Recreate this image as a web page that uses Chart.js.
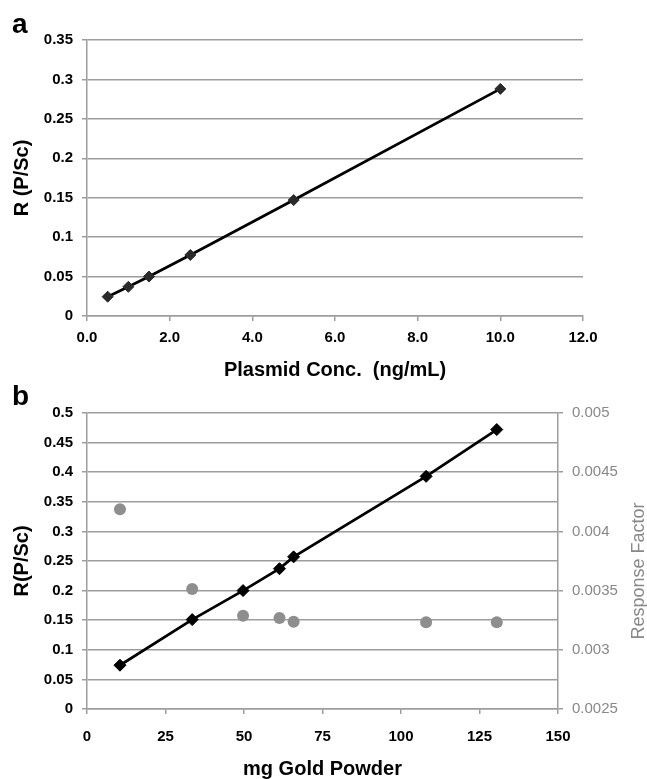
<!DOCTYPE html>
<html><head><meta charset="utf-8">
<script src="https://cdn.jsdelivr.net/npm/chart.js@4.4.0/dist/chart.umd.min.js"></script>
<style>
html,body{margin:0;padding:0;background:#fff;}
#wrap{position:relative;width:647px;height:779px;overflow:hidden;}
canvas{position:absolute;left:0;}
</style></head><body>
<div id="wrap">
<canvas id="ca" width="647" height="380" style="top:0px"></canvas>
<canvas id="cb" width="647" height="399" style="top:380px"></canvas>
</div>
<script>
// ---- Data: panel a ----
const plasmidConc = [0.5, 1.0, 1.5, 2.5, 5.0, 10.0];
const ratioA = [0.0245, 0.037, 0.050, 0.0774, 0.147, 0.288];
const xTicksA = ['0.0', '2.0', '4.0', '6.0', '8.0', '10.0', '12.0'];
const yTicksA = ['0', '0.05', '0.1', '0.15', '0.2', '0.25', '0.3', '0.35'];

// ---- Data: panel b ----
const goldMg = [10.5, 33.5, 49.7, 61.3, 65.8, 108.0, 130.5];
const ratioB = [0.074, 0.151, 0.200, 0.237, 0.257, 0.393, 0.472];
const responseFactor = [0.004187, 0.003513, 0.003288, 0.003269, 0.003237, 0.003232, 0.003232];
const xTicksB = ['0', '25', '50', '75', '100', '125', '150'];
const yTicksB = ['0', '0.05', '0.1', '0.15', '0.2', '0.25', '0.3', '0.35', '0.4', '0.45', '0.5'];
const y2TicksB = ['0.0025', '0.003', '0.0035', '0.004', '0.0045', '0.005'];

const FONT = "'Liberation Sans', Arial, sans-serif";
const GRID = '#9d9d9d';
const tickFont = {family: FONT, size: 15, weight: 'bold'};
const titleFont = {family: FONT, size: 20, weight: 'bold', lineHeight: 1.0};

function letterPlugin(letter, x, y, extra) {
  return {
    id: 'letter' + letter,
    afterDraw(chart) {
      const ctx = chart.ctx;
      ctx.save();
      ctx.fillStyle = '#000';
      ctx.font = 'bold 28px ' + FONT;
      ctx.textBaseline = 'alphabetic';
      ctx.textAlign = 'left';
      ctx.fillText(letter, x, y);
      ctx.restore();
      if (extra) extra(chart);
    }
  };
}

function toPts(xs, ys) { return xs.map((v, i) => ({x: v, y: ys[i]})); }

new Chart(document.getElementById('ca'), {
  type: 'scatter',
  data: {
    datasets: [{
      data: toPts(plasmidConc, ratioA),
      showLine: true,
      borderColor: '#000',
      borderWidth: 2.8,
      pointStyle: 'rectRot',
      pointRadius: 5.5,
      pointBackgroundColor: '#2a2a2a',
      pointBorderColor: '#2a2a2a',
      pointBorderWidth: 1
    }]
  },
  options: {
    responsive: false,
    animation: false,
    events: [],
    layout: {padding: {left: 0, right: 64, top: 40, bottom: 0}},
    plugins: {legend: {display: false}, tooltip: {enabled: false}},
    scales: {
      x: {
        type: 'linear', min: 0, max: 12,
        ticks: {stepSize: 2, callback: (v, i) => xTicksA[i], font: tickFont, color: '#000', padding: 8, maxRotation: 0, autoSkip: false},
        grid: {drawOnChartArea: false, drawTicks: true, tickLength: 5, color: GRID, lineWidth: 1.5},
        border: {color: GRID, width: 1.5},
        title: {display: true, text: 'Plasmid Conc.  (ng/mL)', font: titleFont, color: '#000', padding: {top: 0, bottom: 0}},
        afterFit: s => { s.height = 64; }
      },
      y: {
        type: 'linear', min: 0, max: 0.35,
        ticks: {stepSize: 0.05, callback: (v, i) => yTicksA[i], font: tickFont, color: '#000', padding: 9},
        grid: {color: GRID, lineWidth: 1.5, tickLength: 5},
        border: {color: GRID, width: 1.5},
        title: {display: true, text: 'R (P/Sc)', font: titleFont, color: '#000', padding: {top: 12, bottom: 0}},
        afterFit: s => { s.width = 87; }
      }
    }
  },
  plugins: [letterPlugin('a', 12, 33)]
});

new Chart(document.getElementById('cb'), {
  type: 'scatter',
  data: {
    datasets: [{
      data: toPts(goldMg, ratioB),
      yAxisID: 'y',
      showLine: true,
      borderColor: '#000',
      borderWidth: 2.8,
      pointStyle: 'rectRot',
      pointRadius: 6,
      pointBackgroundColor: '#000',
      pointBorderColor: '#000',
      pointBorderWidth: 1,
      order: 1
    }, {
      data: toPts(goldMg, responseFactor),
      yAxisID: 'y2',
      showLine: false,
      pointStyle: 'circle',
      pointRadius: 6,
      pointBackgroundColor: '#8e8e8e',
      pointBorderColor: '#8e8e8e',
      pointBorderWidth: 0,
      order: 2
    }]
  },
  options: {
    responsive: false,
    animation: false,
    events: [],
    layout: {padding: {left: 0, right: 0, top: 33, bottom: 0}},
    plugins: {legend: {display: false}, tooltip: {enabled: false}},
    scales: {
      x: {
        type: 'linear', min: 0, max: 150,
        ticks: {stepSize: 25, callback: (v, i) => xTicksB[i], font: tickFont, color: '#000', padding: 14, maxRotation: 0, autoSkip: false},
        grid: {drawOnChartArea: false, drawTicks: true, tickLength: 5, color: GRID, lineWidth: 1.5},
        border: {color: GRID, width: 1.5},
        title: {display: true, text: 'mg Gold Powder', font: titleFont, color: '#000', padding: {top: 0, bottom: 0}},
        afterFit: s => { s.height = 70; }
      },
      y: {
        type: 'linear', position: 'left', min: 0, max: 0.5,
        ticks: {stepSize: 0.05, callback: (v, i) => yTicksB[i], font: tickFont, color: '#000', padding: 9},
        grid: {color: GRID, lineWidth: 1.5, tickLength: 5},
        border: {color: GRID, width: 1.5},
        title: {display: true, text: 'R(P/Sc)', font: titleFont, color: '#000', padding: {top: 12, bottom: 0}},
        afterFit: s => { s.width = 87; }
      },
      y2: {
        type: 'linear', position: 'right', min: 0.0025, max: 0.005,
        ticks: {stepSize: 0.0005, callback: (v, i) => y2TicksB[i], font: {family: FONT, size: 15}, color: '#888', padding: 9},
        grid: {drawOnChartArea: false, color: GRID, lineWidth: 1.5, tickLength: 5},
        border: {color: GRID, width: 1.5},
        afterFit: s => { s.width = 89; }
      }
    }
  },
  plugins: [letterPlugin('b', 12, 25, chart => {
    const ctx = chart.ctx;
    ctx.save();
    ctx.translate(639, 191);
    ctx.rotate(-Math.PI / 2);
    ctx.fillStyle = '#888';
    ctx.font = '18px ' + FONT;
    ctx.textAlign = 'center';
    ctx.textBaseline = 'middle';
    ctx.fillText('Response Factor', 0, 0);
    ctx.restore();
  })]
});
</script>
</body></html>
